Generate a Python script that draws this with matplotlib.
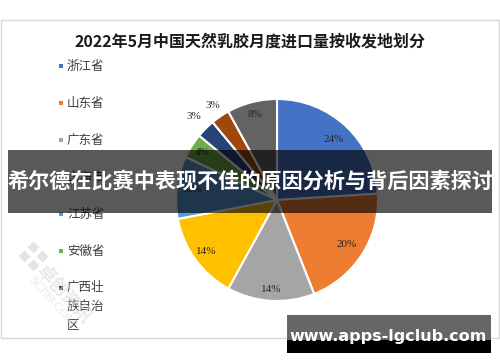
import numpy as np
import matplotlib
matplotlib.use("Agg")
import matplotlib.pyplot as plt
from matplotlib.patches import Rectangle

plt.rcParams["font.family"] = ["Noto Sans CJK SC", "DejaVu Sans"]

# -------------------------------------------------------------------
# Data
# -------------------------------------------------------------------
title = "2022年5月中国天然乳胶月度进口量按收发地划分"
legend_labels = ["浙江省", "山东省", "广东省", "上海市", "江苏省", "安徽省", "广西壮族自治区"]
shares = [24, 20, 14, 14, 10, 4, 3, 3, 8]
colors = ["#4472C4", "#ED7D31", "#A5A5A5", "#FFC000", "#5B9BD5",
          "#70AD47", "#264478", "#9E480E", "#636363"]
label_radius = [0.82, 0.82, 0.89, 0.86, 0.85, 0.88, 1.17, 1.13, 0.87]
banner_text = "希尔德在比赛中表现不佳的原因分析与背后因素探讨"
site_text = "www.apps-lgclub.com"

W, H = 500, 362
fig = plt.figure(figsize=(W / 100, H / 100), dpi=100)


def fx(x):
    return x / W


def fy(y):
    return 1 - y / H


# chart frame
fig.patches.append(Rectangle((fx(1), fy(338)), fx(498), 318 / H, transform=fig.transFigure,
                             facecolor="none", edgecolor="#d9d9d9", lw=1, zorder=0))

fig.text(fx(250), fy(42), title, ha="center", va="center", fontsize=11.5,
         fontweight="bold", color="#1a1a1a")

# -------------------------------------------------------------------
# Pie
# -------------------------------------------------------------------
cx, cy, r = 277, 200, 101
ax = fig.add_axes([fx(cx - r), fy(cy + r), 2 * r / W, 2 * r / H])
wedges, _ = ax.pie(shares, colors=colors, startangle=90, counterclock=False,
                   wedgeprops=dict(edgecolor="white", linewidth=1.5))
ax.set_xlim(-1, 1)
ax.set_ylim(-1, 1)
ax.set_aspect("equal")
ax.axis("off")

for w, val, rr in zip(wedges, shares, label_radius):
    mid = np.deg2rad((w.theta1 + w.theta2) / 2)
    ax.text(rr * np.cos(mid), rr * np.sin(mid), f"{val}%", ha="center", va="center",
            fontsize=8, family="Liberation Serif", color="#262626")

# -------------------------------------------------------------------
# Legend (manual, Excel style, last label wraps)
# -------------------------------------------------------------------
y0, step = 66, 37
for i, lab in enumerate(legend_labels):
    y = y0 + i * step
    fig.patches.append(Rectangle((fx(59), fy(y + 2)), 4 / W, 4 / H, transform=fig.transFigure,
                                 facecolor=colors[i], edgecolor="none"))
    chunks = [lab[k:k + 3] for k in range(0, len(lab), 3)]
    for j, ch in enumerate(chunks):
        fig.text(fx(67), fy(y + j * 19), ch, ha="left", va="center", fontsize=9,
                 color="#404040")

# watermark
fig.text(fx(64), fy(293), "卓创资讯", rotation=-48, ha="center", va="center",
         fontsize=13, fontweight="bold", color="#dadada", alpha=0.6)
fig.text(fx(52), fy(302), "SCI99.COM", rotation=-48, ha="center", va="center",
         fontsize=9, family="Liberation Serif", color="#dadada", alpha=0.6)
for dx, dy in [(0, 0), (9, -9), (9, 9), (18, 0)]:
    fig.text(fx(25 + dx), fy(255 + dy), "■", rotation=45, ha="center", va="center",
             fontsize=8, color="#d8d8d8", family="DejaVu Sans", alpha=0.7)

# -------------------------------------------------------------------
# Overlays
# -------------------------------------------------------------------
fig.patches.append(Rectangle((fx(8), fy(213)), 484 / W, 63 / H, transform=fig.transFigure,
                             facecolor="black", alpha=0.65, edgecolor="none", zorder=5))
fig.text(fx(250), fy(181), banner_text, ha="center", va="center", fontsize=15.2,
         fontweight="bold", color="white", zorder=6)

fig.patches.append(Rectangle((fx(287), fy(340)), 204 / W, 25 / H, transform=fig.transFigure,
                             facecolor="#666666", edgecolor="none", zorder=5))
fig.patches.append(Rectangle((fx(287), fy(353)), 204 / W, 13 / H, transform=fig.transFigure,
                             facecolor="black", edgecolor="none", zorder=5))
fig.text(fx(388), fy(337), site_text, ha="center", va="center", fontsize=11.5,
         fontweight="bold", color="white", family="DejaVu Sans", zorder=6)

fig.savefig("out.png", dpi=100)
